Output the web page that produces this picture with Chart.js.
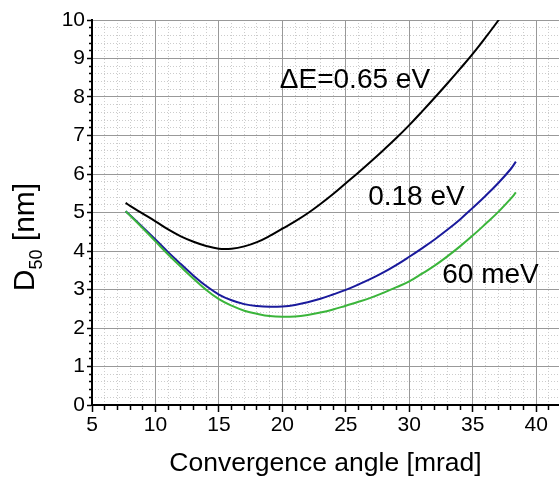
<!DOCTYPE html>
<html><head><meta charset="utf-8">
<script src="https://cdn.jsdelivr.net/npm/chart.js@4"></script>
<style>html,body{margin:0;padding:0;background:#fff}canvas{display:block}</style>
</head><body>
<canvas id="c" width="559" height="483"></canvas>
<script>
// ---- data ----
const angles   = [7.65, 8, 9, 10, 11, 12, 13, 14, 15, 16, 17, 18, 19, 20, 21, 22, 23, 24, 25, 26, 27, 28, 29, 30, 31, 32, 33, 34, 35, 36, 37, 38, 38.4];
const d50_065eV = [5.25, 5.17, 4.97, 4.77, 4.56, 4.38, 4.24, 4.13, 4.06, 4.06, 4.12, 4.23, 4.39, 4.58, 4.77, 4.98, 5.22, 5.48, 5.76, 6.04, 6.33, 6.63, 6.94, 7.27, 7.62, 7.98, 8.35, 8.73, 9.12, 9.54, 9.98, 10.45, 10.65];
const d50_018eV = [5.03, 4.93, 4.62, 4.30, 3.97, 3.66, 3.36, 3.09, 2.87, 2.72, 2.62, 2.57, 2.55, 2.56, 2.60, 2.67, 2.76, 2.87, 2.99, 3.13, 3.28, 3.45, 3.64, 3.85, 4.07, 4.30, 4.55, 4.82, 5.12, 5.43, 5.76, 6.13, 6.32];
const d50_60meV = [5.03, 4.92, 4.59, 4.25, 3.91, 3.59, 3.28, 2.99, 2.75, 2.58, 2.45, 2.37, 2.31, 2.29, 2.30, 2.34, 2.40, 2.48, 2.58, 2.68, 2.79, 2.92, 3.06, 3.21, 3.41, 3.62, 3.86, 4.12, 4.40, 4.70, 5.01, 5.36, 5.52];
const xTickLabels = [5, 10, 15, 20, 25, 30, 35, 40];
const yTickLabels = [0, 1, 2, 3, 4, 5, 6, 7, 8, 9, 10];
const seriesNames = ['ΔE=0.65 eV', '0.18 eV', '60 meV'];
const xTitle = 'Convergence angle [mrad]';
const yTitleParts = ['D', '50', ' [nm]'];

// ---- layout / style ----
const FONT = "'Liberation Sans', Arial, Helvetica, sans-serif";
const colors = ['#000000', '#1a1a9c', '#3bb53b'];
const labelAnchors = [[19.8, 8.24], [26.76, 5.19], [32.6, 3.18]]; // data coords of curve labels
const MAJOR = '#999999', MINOR = '#cccccc';

const isMajorX = v => xTickLabels.includes(Math.round(v)) && Math.abs(v - Math.round(v)) < 1e-6;
const isMajorY = v => Math.abs(v - Math.round(v)) < 1e-6;

function pts(ys) { return angles.map((a, i) => ({x: a, y: ys[i]})); }

const curveLabels = {
  id: 'curveLabels',
  afterDatasetsDraw(chart) {
    const {ctx, scales: {x, y}} = chart;
    ctx.save();
    ctx.font = '28px ' + FONT;
    ctx.fillStyle = '#000';
    ctx.textBaseline = 'alphabetic';
    ctx.textAlign = 'left';
    seriesNames.forEach((t, i) => {
      ctx.fillText(t, x.getPixelForValue(labelAnchors[i][0]), y.getPixelForValue(labelAnchors[i][1]));
    });
    ctx.restore();
  }
};

const yTitle = {
  id: 'yTitle',
  afterDraw(chart) {
    const {ctx} = chart;
    const big = '30px ' + FONT, small = '18px ' + FONT;
    ctx.save();
    ctx.fillStyle = '#000';
    ctx.textBaseline = 'alphabetic';
    ctx.font = big; const w0 = ctx.measureText(yTitleParts[0]).width;
    ctx.font = small; const w1 = ctx.measureText(yTitleParts[1]).width;
    ctx.font = big; const w2 = ctx.measureText(yTitleParts[2]).width;
    const total = w0 + w1 + w2;
    ctx.translate(34, 237 + total / 2);
    ctx.rotate(-Math.PI / 2);
    ctx.font = big; ctx.fillText(yTitleParts[0], 0, 0);
    ctx.font = small; ctx.fillText(yTitleParts[1], w0, 8);
    ctx.font = big; ctx.fillText(yTitleParts[2], w0 + w1, 0);
    ctx.restore();
  }
};

new Chart(document.getElementById('c'), {
  type: 'line',
  data: {
    datasets: [
      {label: seriesNames[0], data: pts(d50_065eV), borderColor: colors[0], order: 2},
      {label: seriesNames[1], data: pts(d50_018eV), borderColor: colors[1], order: 1},
      {label: seriesNames[2], data: pts(d50_60meV), borderColor: colors[2], order: 0}
    ]
  },
  options: {
    responsive: false,
    animation: false,
    devicePixelRatio: 1,
    layout: {padding: {top: 20, right: 0, bottom: 0, left: 0}},
    elements: {
      line: {borderWidth: 2, fill: false, tension: 0.4},
      point: {radius: 0}
    },
    datasets: {line: {clip: 0}},
    plugins: {legend: {display: false}, tooltip: {enabled: false}},
    scales: {
      xMinor: {
        type: 'linear', position: 'bottom', min: 5, max: 41.8,
        ticks: {display: false, stepSize: 1, includeBounds: false, autoSkip: false},
        grid: {drawTicks: false, z: -1, lineWidth: 1,
               color: c => (c.tick && isMajorX(c.tick.value)) ? 'rgba(0,0,0,0)' : MINOR},
        border: {display: false, dash: [1, 2]}
      },
      yMinor: {
        type: 'linear', position: 'left', min: 0, max: 10,
        ticks: {display: false, stepSize: 0.2, includeBounds: false, autoSkip: false},
        grid: {drawTicks: false, z: -1, lineWidth: 1,
               color: c => (c.tick && isMajorY(c.tick.value)) ? 'rgba(0,0,0,0)' : MINOR},
        border: {display: false, dash: [1, 2]}
      },
      x: {
        type: 'linear', position: 'bottom', min: 5, max: 41.8, weight: 1,
        afterFit: s => { s.height = 78; },
        ticks: {
          stepSize: 1, includeBounds: false, autoSkip: false, maxRotation: 0, minRotation: 0,
          padding: 1, color: '#000', font: {family: FONT, size: 21},
          callback: v => isMajorX(v) ? String(Math.round(v)) : ''
        },
        grid: {
          lineWidth: 1, tickLength: 7, tickWidth: 1.5, tickColor: '#000',
          color: c => (c.tick && isMajorX(c.tick.value)) ? MAJOR : 'rgba(0,0,0,0)',
          tickBorderDash: c => (c.tick && isMajorX(c.tick.value)) ? [] : [4, 100]
        },
        border: {display: true, color: '#000', width: 2},
        title: {display: true, text: xTitle, color: '#000', font: {family: FONT, size: 26.5},
                padding: {top: 0, bottom: 3}}
      },
      y: {
        type: 'linear', position: 'left', min: 0, max: 10, weight: 1,
        afterFit: s => { s.width = 92; },
        ticks: {
          stepSize: 0.2, includeBounds: false, autoSkip: false, padding: 2, color: '#000',
          font: {family: FONT, size: 21},
          callback: v => isMajorY(v) && yTickLabels.includes(Math.round(v)) ? String(Math.round(v)) : ''
        },
        grid: {
          lineWidth: 1, tickLength: 5, tickWidth: 1.5, tickColor: '#000',
          color: c => (c.tick && isMajorY(c.tick.value)) ? MAJOR : 'rgba(0,0,0,0)',
          tickBorderDash: c => (c.tick && isMajorY(c.tick.value)) ? [] : [0, 2, 3, 100]
        },
        border: {display: true, color: '#000', width: 2}
      }
    }
  },
  plugins: [curveLabels, yTitle]
});
</script>
</body></html>
